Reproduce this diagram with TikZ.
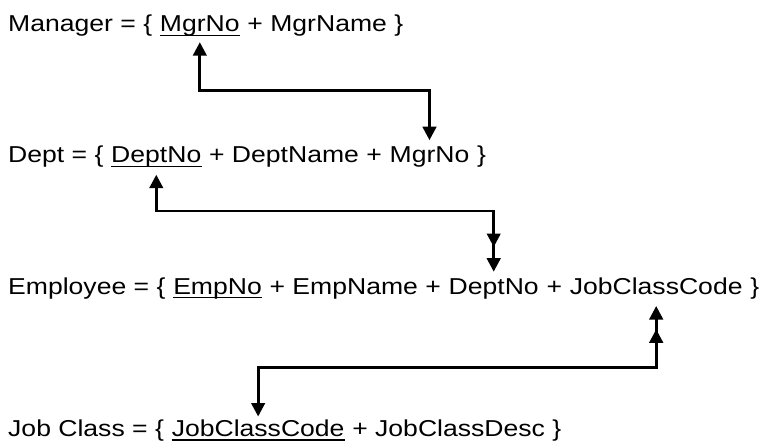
\documentclass[tikz,border=0pt]{standalone}
\usepackage{fontspec}
\setmainfont{Liberation Sans}[FakeStretch=1.155]
\usetikzlibrary{arrows.meta}

\begin{document}
\begin{tikzpicture}[x=1pt,y=-1pt,font=\fontsize{23}{28}\selectfont,
  field/.style={inner sep=0pt,anchor=base west},
  keyline/.style={line width=1.4pt},
  link/.style={line width=2.8pt,{Triangle[length=13.5pt,width=13.5pt]}-{Triangle[length=13.5pt,width=13.5pt]}},
  head/.style={line width=2.8pt,-{Triangle[length=13.5pt,width=13.5pt]}}]
  \useasboundingbox (0,0) rectangle (762,444);

  \node[field] (mgr) at (8,31.7) {Manager = \{\ \null};
  \node[field] (mgrno) at (mgr.base east) {MgrNo};
  \node[field] (mgrname) at (mgrno.base east) {\ + MgrName \}};

  \node[field] (dept) at (8,162.7) {Dept = \{\ \null};
  \node[field] (deptno) at (dept.base east) {DeptNo};
  \node[field] (deptname) at (deptno.base east) {\ + DeptName +\ \null};
  \node[field] (deptmgr) at (deptname.base east) {MgrNo};
  \node[field] (deptend) at (deptmgr.base east) {\ \}};

  \node[field] (emp) at (8,294) {Employee = \{\ \null};
  \node[field] (empno) at (emp.base east) {EmpNo};
  \node[field] (empname) at (empno.base east) {\ + EmpName +\ \null};
  \node[field] (empdept) at (empname.base east) {DeptNo};
  \node[field] (empplus) at (empdept.base east) {\ +\ \null};
  \node[field] (empjob) at (empplus.base east) {JobClassCode};
  \node[field] (empend) at (empjob.base east) {\ \}};

  \node[field] (job) at (8,436.5) {Job Class = \{\ \null};
  \node[field] (jobcode) at (job.base east) {JobClassCode};
  \node[field] (jobdesc) at (jobcode.base east) {\ + JobClassDesc \}};

  \foreach \k in {mgrno,deptno,empno,jobcode}
    \draw[keyline] ([yshift=-3.6pt]\k.base west) -- ([yshift=-3.6pt]\k.base east);

  \coordinate (bend1) at (0,90.7);
  \coordinate (bend2) at (0,211);
  \coordinate (bend3) at (0,367.3);

  \draw[link] ([yshift=-10.5pt]mgrno.base) -- (mgrno.base |- bend1) -| ([yshift=22.5pt]deptmgr.base);
  \draw[link] ([yshift=-12pt]deptno.base) -- (deptno.base |- bend2) -| ([yshift=22.3pt]empdept.base);
  \draw[head] (empdept.base |- bend2) -- ([yshift=47pt]empdept.base);
  \draw[link] ([yshift=-12pt]empjob.base) -- (empjob.base |- bend3) -| ([yshift=20pt]jobcode.base);
  \draw[head] (empjob.base |- bend3) -- ([yshift=-35.3pt]empjob.base);
\end{tikzpicture}
\end{document}
